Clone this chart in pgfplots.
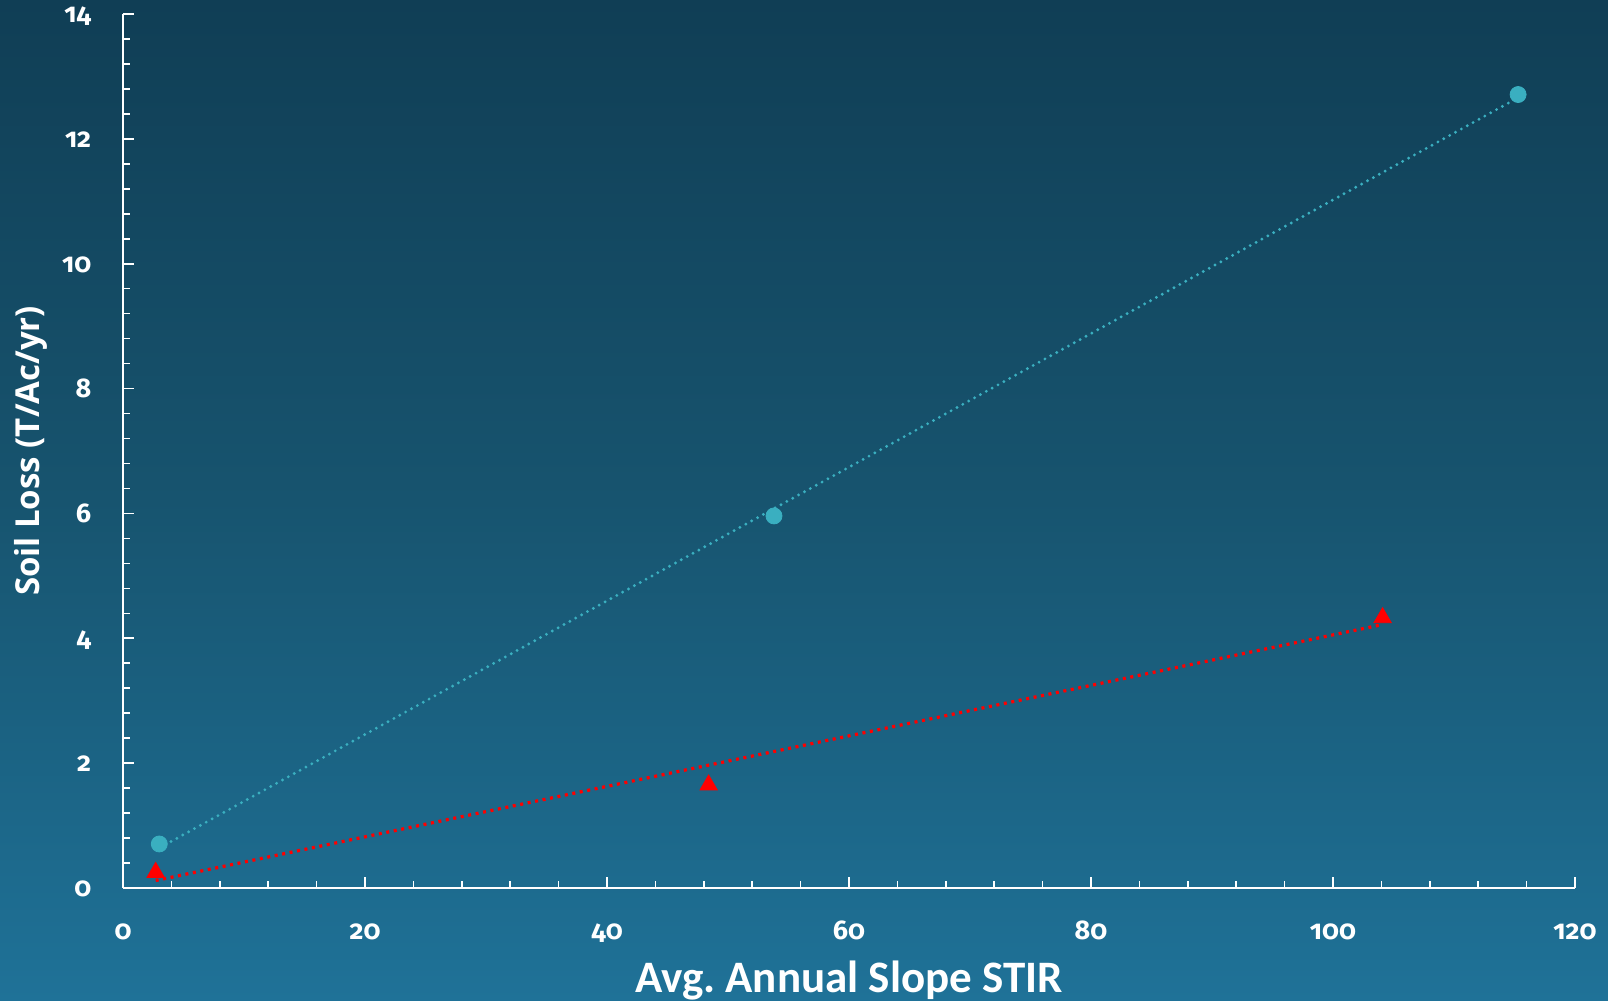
\documentclass[border=0pt]{standalone}
\usepackage{pgfplots}
\pgfplotsset{compat=1.18}
\usepackage{fontspec}
\setmainfont{Carlito}
\newfontfamily\labfont{Open Sans}
\newfontfamily\tickfont[Numbers=OldStyle]{Fira Sans}
\definecolor{bgtop}{HTML}{103E55}
\definecolor{bgmid}{HTML}{17546F}
\definecolor{bgbot}{HTML}{1F7298}
\definecolor{tealc}{HTML}{3AAFC0}
\definecolor{redc}{HTML}{FF0000}

\begin{document}
\begin{tikzpicture}
\shade[top color=bgtop, bottom color=bgbot, middle color=bgmid] (0,0) rectangle (804pt,500.5pt);
\path[use as bounding box] (0,0) rectangle (804pt,500.5pt);
\begin{axis}[
  at={(61.5pt,56.5pt)}, anchor=south west,
  scale only axis, width=726pt, height=437pt,
  xmin=0, xmax=120, ymin=0, ymax=14,
  axis lines=left,
  axis line style={white, line width=1pt, -},
  xtick distance=20, ytick distance=2,
  minor x tick num=4, minor y tick num=4,
  major tick length=5.5pt, minor tick length=3.5pt,
  tick align=inside,
  every tick/.style={white, line width=0.8pt},
  minor tick style={white, line width=0.8pt},
  major tick style={white, line width=0.8pt},
  /pgf/number format/assume math mode=true,
  ticklabel style={white, inner sep=0pt, font=\tickfont\bfseries\fontsize{13.5}{13.5}\selectfont},
  xticklabel style={anchor=base, yshift=-25.7pt},
  yticklabel style={anchor=base east, xshift=-15.7pt, yshift=-4.3pt},
  xlabel={Avg.\ Annual Slope STIR},
  ylabel={Soil Loss (T/Ac/yr)},
  xlabel style={white, font=\bfseries\fontsize{22.5}{22.5}\selectfont, inner sep=0pt,
     at={(axis description cs:0.5,0)}, anchor=base, yshift=-52.5pt},
  ylabel style={white, font=\labfont\bfseries\fontsize{16.5}{16.5}\selectfont, inner sep=0pt,
     at={(axis description cs:0,0.5)}, anchor=center, yshift=46pt},
  clip=false,
]
% trendlines (dotted)
\addplot[tealc, line width=1.6pt, line cap=round, dash pattern=on 0pt off 3.35pt] coordinates {(3,0.64) (115.3,12.66)};
\addplot[redc, line width=1.6pt, dash pattern=on 1.5pt off 2.3pt] coordinates {(2.7,0.12) (104.1,4.22)};
% data
\addplot[tealc, only marks, mark=*, mark size=4pt, mark options={tealc, solid}] coordinates {(3,0.705) (53.8,5.96) (115.3,12.71)};
\addplot[redc, only marks, mark=triangle*, mark size=5pt, mark options={redc, solid}] coordinates {(2.7,0.25) (48.4,1.65) (104.1,4.33)};
\end{axis}
\end{tikzpicture}
\end{document}
